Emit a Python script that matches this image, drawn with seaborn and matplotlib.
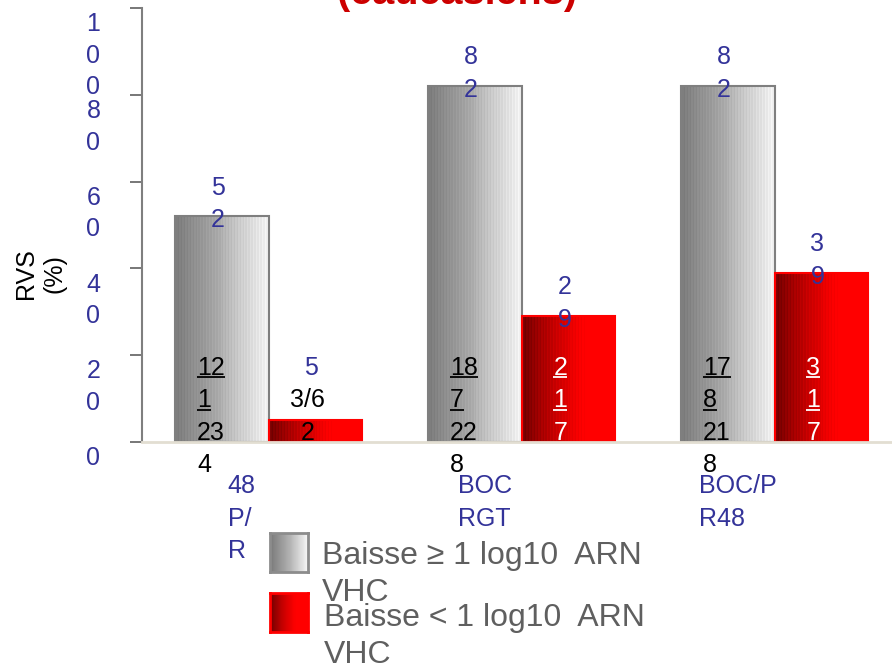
import numpy as np
import pandas as pd
import matplotlib
matplotlib.use("Agg")
import matplotlib.pyplot as plt
import seaborn as sns
from matplotlib.colors import LinearSegmentedColormap
from matplotlib.transforms import ScaledTranslation

# data
groups = ["P/R48", "BOC RGT", "BOC/PR48"]
series = ["Baisse ≥ 1 log10  ARN VHC", "Baisse < 1 log10  ARN VHC"]
rvs_high = [52, 82, 82]
rvs_low = [5, 29, 39]
xlabels = [["48", "P/", "R"], ["BOC", "RGT"], ["BOC/P", "R48"]]
high_counts = [["12", "1", "23", "4"], ["18", "7", "22", "8"], ["17", "8", "21", "8"]]
low_counts = [["", "3/6", "2"], ["2", "1", "7"], ["3", "1", "7"]]
yticks = [0, 20, 40, 60, 80, 100]

BLUE = "#333399"
PX_X = 1 / 253.0      # data units per pixel (x)
PX_Y = 100 / 434.0    # data units per pixel (y)
LINE = 32.5 * PX_Y

sns.set_style("white")
plt.rcParams["font.family"] = ["Liberation Sans", "DejaVu Sans"]

fig = plt.figure(figsize=(8.92, 6.63), dpi=100)
ax = fig.add_axes([142 / 892, 221 / 663, 750 / 892, 434 / 663])

df = pd.DataFrame({
    "group": groups * 2,
    "serie": [series[0]] * 3 + [series[1]] * 3,
    "rvs": rvs_high + rvs_low,
})
sns.barplot(data=df, x="group", y="rvs", hue="serie", order=groups,
            hue_order=series, palette=["#bbbbbb", "#cc0000"], width=0.74,
            gap=0, saturation=1, legend=False, ax=ax)


def gradient(n=64):
    g = np.linspace(0, 1, n)
    g = np.clip(g + 0.06 * (np.arange(n) % 2) - 0.03, 0, 1)
    return g[np.newaxis, :]


grey_cmap = LinearSegmentedColormap.from_list("g", ["#7a7a7a", "#b0b0b0", "#f7f7f7"])
red_cmap = LinearSegmentedColormap.from_list("r", ["#700000", "#c80000", "#ff0000", "#ff0000"])
cmaps = [grey_cmap, red_cmap]
edges = ["#7f7f7f", "#ff0000"]

for k, cont in enumerate(ax.containers):
    for bar in cont:
        x0, w, h = bar.get_x(), bar.get_width(), bar.get_height()
        ax.imshow(gradient(), extent=[x0, x0 + w, 0, h], aspect="auto",
                  cmap=cmaps[k], interpolation="nearest", zorder=1.5)
        bar.set_facecolor("none")
        bar.set_edgecolor(edges[k])
        bar.set_linewidth(1.5)
        bar.set_zorder(2)

ax.set_xlim(-0.5, 2.464)
ax.set_ylim(0, 100)


def stack(x, y0, lines, color, size=18, ha="left", n_under=0):
    for i, s in enumerate(lines):
        y = y0 - i * LINE
        ax.text(x, y, s, color=color, fontsize=size, ha=ha, va="baseline",
                clip_on=False, zorder=5)
        if i < n_under and s:
            w = len(s) * 0.556 * size / 72 * 100 * PX_X
            a = x if ha == "left" else x - w / 2
            ax.plot([a, a + w], [y - 2.5 * PX_Y] * 2, color=color, lw=1.3,
                    clip_on=False, solid_capstyle="butt", zorder=5)


grey_bars = list(ax.containers[0])
red_bars = list(ax.containers[1])
first_base = 15.45

for i in range(3):
    gb, rb = grey_bars[i], red_bars[i]
    gc = gb.get_x() + gb.get_width() / 2
    rc = rb.get_x() + rb.get_width() / 2
    # counts inside bars
    stack(gb.get_x() + 22 * PX_X, first_base, high_counts[i], "black", n_under=2)
    stack(rc - 8 * PX_X, first_base, low_counts[i],
          "black" if i == 0 else "white", ha="center", n_under=0 if i == 0 else 2)
    # percentages above bars, one digit per line
    for v, c in [(rvs_high[i], gc), (rvs_low[i], rc)]:
        digits = list(str(v))
        last = max(v - 2.5, first_base - (len(digits) - 1) * LINE)
        stack(c - 4 * PX_X, last + (len(digits) - 1) * LINE, digits, BLUE, ha="center")

# category labels under the axis
xoff = [-41, -64, -76]
for i, lines in enumerate(xlabels):
    stack(i + xoff[i] * PX_X, -51 * PX_Y, lines, BLUE)

# axes styling
ax.set_xticks([0.5, 1.5], labels=["", ""])
ax.tick_params(axis="x", length=7, width=1, color="#555555", direction="out")
ax.set_xlabel("")
ax.set_yticks(yticks, labels=["\n".join(str(v)) for v in yticks])
ax.tick_params(axis="y", length=9, width=1.2, color="#606060",
               labelcolor=BLUE, labelsize=18, pad=26, left=True)
for lbl in ax.get_yticklabels():
    lbl.set_va("top")
    lbl.set_ha("center")
    lbl.set_linespacing(1.4)
    lbl.set_transform(lbl.get_transform() + ScaledTranslation(0, -3 / 72, fig.dpi_scale_trans))

ax.set_ylabel("RVS\n(%)", fontsize=18, color="black", linespacing=1.25)
ax.yaxis.set_label_coords(-0.136, 0.389)
ax.yaxis.label.set_va("center")
ax.yaxis.label.set_ha("center")

ax.spines["top"].set_visible(False)
ax.spines["right"].set_visible(False)
ax.spines["left"].set_color("#7f7f7f")
ax.spines["left"].set_linewidth(1.5)
ax.spines["bottom"].set_color("#e2ded2")
ax.spines["bottom"].set_linewidth(2)

# title, mostly cut by the top border
fig.text(457 / 892, 1 - 4 / 663, "(caucasiens)", fontsize=28.5,
         fontweight="bold", color="#cc0000", ha="center", va="baseline")

# legend drawn by hand, with gradient swatches
for i, name in enumerate(series):
    lax = fig.add_axes([270 / 892, 1 - (572 + i * 60) / 663, 38 / 892, 39 / 663])
    lax.imshow(gradient(), cmap=cmaps[i], aspect="auto", extent=[0, 1, 0, 1])
    lax.set_xticks([])
    lax.set_yticks([])
    for s in lax.spines.values():
        s.set_color(edges[i] if i else "#8c8c8c")
        s.set_linewidth(2)
    for j, part in enumerate(name.rsplit(" ", 1)):
        fig.text((322 + 2 * i) / 892, 1 - (564 + i * 62 + j * 37) / 663, part,
                 fontsize=23, color="#5f5f5f", ha="left", va="baseline")

fig.savefig("out.png", dpi=100)
